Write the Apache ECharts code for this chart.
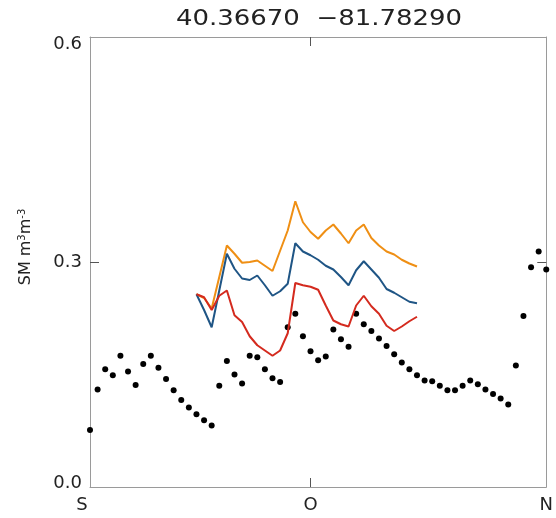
<!DOCTYPE html>
<html>
<head>
<meta charset="utf-8">
<style>
html,body{margin:0;padding:0;background:#fff;}
#chart{width:556px;height:518px;}
</style>
<script src="https://cdn.jsdelivr.net/npm/echarts@6/dist/echarts.min.js"></script>
</head>
<body>
<div id="chart"></div>
<script>
// Day index along the x axis (0 .. 60)
const xTickValues = [0, 29, 60];
const xTickLabels = ['S', 'O', 'N'];
const yTickValues = [0, 0.3, 0.6];
const titleText = '40.36670  \u221281.78290';

// Observed soil moisture (black dots), one per day, index 0..60
const observed = [0.076,0.130,0.157,0.149,0.175,0.154,0.136,0.164,0.175,0.159,
  0.144,0.129,0.116,0.106,0.097,0.089,0.082,0.135,0.168,0.150,
  0.138,0.175,0.173,0.157,0.145,0.140,0.213,0.231,0.201,0.181,
  0.169,0.174,0.210,0.197,0.187,0.231,0.217,0.208,0.198,0.188,
  0.177,0.166,0.157,0.149,0.142,0.141,0.135,0.129,0.129,0.135,
  0.142,0.137,0.130,0.124,0.118,0.110,0.162,0.228,0.293,0.314,0.290];

// Modelled lines start at day index 14
const lineStart = 14;
const orangeLine = [0.257,0.252,0.238,0.280,0.322,0.311,0.299,0.300,0.302,0.295,
  0.288,0.315,0.342,0.381,0.353,0.340,0.331,0.342,0.350,0.338,
  0.325,0.342,0.350,0.332,0.322,0.314,0.310,0.303,0.298,0.294];
const blueLine = [0.257,0.236,0.213,0.262,0.311,0.291,0.278,0.276,0.282,0.269,
  0.255,0.261,0.271,0.325,0.314,0.309,0.303,0.295,0.290,0.280,
  0.269,0.289,0.301,0.290,0.279,0.264,0.259,0.253,0.247,0.245];
const redLine = [0.257,0.253,0.236,0.255,0.262,0.229,0.220,0.201,0.189,0.182,
  0.175,0.182,0.205,0.272,0.269,0.267,0.263,0.242,0.222,0.217,
  0.214,0.242,0.255,0.241,0.231,0.215,0.208,0.214,0.221,0.227];

const toPairs = (arr, start) => arr.map((v, i) => [start + i, v]);

const axisGray = '#9a9a9a';
const tickGray = '#555';
const font = 'DejaVu Sans';
const txt = '#222';

const chart = echarts.init(document.getElementById('chart'), null, {renderer: 'canvas'});

const lineSeries = (data, color) => ({
  type: 'line',
  data: toPairs(data, lineStart),
  showSymbol: false,
  symbol: 'none',
  lineStyle: {color: color, width: 2},
  itemStyle: {color: color},
  animation: false,
  z: 3
});

const frameLine = {show: true, onZero: false, lineStyle: {color: axisGray, width: 1}};
const lab = {fontFamily: font, fontSize: 18, color: txt};

chart.setOption({
  animation: false,
  backgroundColor: '#fff',
  grid: {left: 90, right: 6, top: 37, bottom: 31, show: false},
  xAxis: [{
    type: 'value', min: 0, max: 60, position: 'bottom',
    axisLine: frameLine,
    axisTick: {show: true, inside: true, length: 9, customValues: [29], lineStyle: {color: tickGray}},
    axisLabel: {
      customValues: xTickValues,
      formatter: v => {
        const i = xTickValues.indexOf(v);
        if (i === 0) return '{s|' + xTickLabels[i] + '}';
        return xTickLabels[i] || '';
      },
      rich: {s: Object.assign({padding: [0, 16, 0, 0]}, lab)},
      fontFamily: font, fontSize: 18, color: txt, margin: 9
    },
    splitLine: {show: false}
  }, {
    type: 'value', min: 0, max: 60, position: 'top',
    axisLine: frameLine,
    axisTick: {show: true, inside: true, length: 9, customValues: [29], lineStyle: {color: tickGray}},
    axisLabel: {show: false},
    splitLine: {show: false}
  }],
  yAxis: [{
    type: 'value', min: 0, max: 0.6, position: 'left',
    axisLine: frameLine,
    axisTick: {show: true, inside: true, length: 9, customValues: [0.3], lineStyle: {color: tickGray}},
    axisLabel: {
      customValues: yTickValues,
      formatter: v => {
        const s = v.toFixed(1);
        if (v >= 0.59) return '{top|' + s + '}';
        if (v <= 0.01) return '{bot|' + s + '}';
        return s;
      },
      rich: {
        top: Object.assign({padding: [15, 0, 0, 0]}, lab),
        bot: Object.assign({padding: [0, 0, 8, 0]}, lab)
      },
      fontFamily: font, fontSize: 18, color: txt, margin: 8
    },
    splitLine: {show: false}
  }, {
    type: 'value', min: 0, max: 0.6, position: 'right',
    axisLine: frameLine,
    axisTick: {show: true, inside: true, length: 9, customValues: [0.3], lineStyle: {color: tickGray}},
    axisLabel: {show: false},
    splitLine: {show: false}
  }],
  graphic: [{
    type: 'text',
    x: 319, y: 19.5,
    scaleX: 1.18,
    style: {
      text: titleText,
      fontFamily: font, fontSize: 22, fill: txt,
      align: 'center', verticalAlign: 'middle'
    }
  }, {
    type: 'text',
    x: 26, y: 247,
    rotation: Math.PI / 2,
    style: {
      text: 'SM m{sup|3}m{sup|-3}',
      fontFamily: font, fontSize: 16, fill: txt,
      align: 'center', verticalAlign: 'middle',
      rich: {sup: {fontFamily: font, fontSize: 10, verticalAlign: 'top', padding: [0, 0, 8, 0]}}
    }
  }],
  series: [
    {
      type: 'scatter',
      data: toPairs(observed, 0),
      symbol: 'circle', symbolSize: 6,
      itemStyle: {color: '#000', opacity: 1},
      clip: true,
      z: 2
    },
    lineSeries(orangeLine, '#ef8f14'),
    lineSeries(blueLine, '#1f5585'),
    lineSeries(redLine, '#d42a1e')
  ]
});
</script>
</body>
</html>
